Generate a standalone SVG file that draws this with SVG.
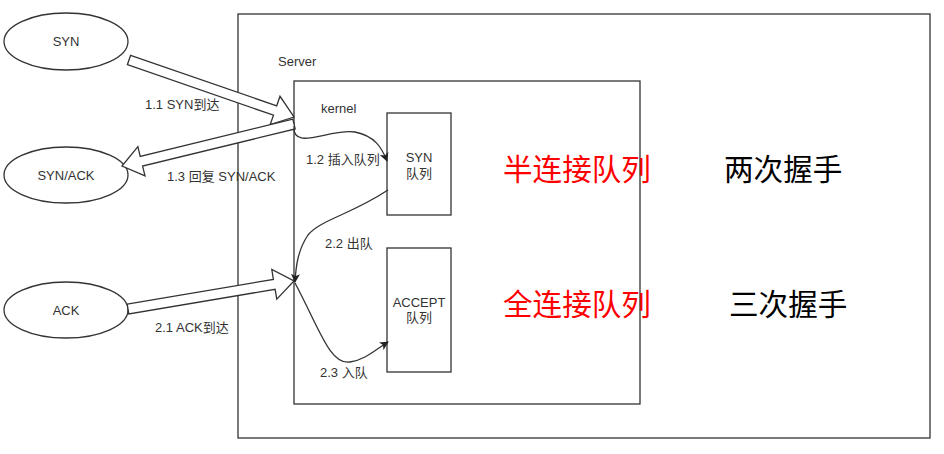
<svg xmlns="http://www.w3.org/2000/svg" width="944" height="454" viewBox="0 0 944 454">
<defs>
<style>
.box{fill:#fff;stroke:#333;stroke-width:1.3}
.el{fill:#fff;stroke:#333;stroke-width:1.3}
.t{font-family:"Liberation Sans","Noto Sans CJK SC",sans-serif;font-size:13px;fill:#333}
.c{text-anchor:middle}
.flex{fill:#fff;stroke:#333;stroke-width:1.3;stroke-linejoin:miter}
.curve{fill:none;stroke:#333;stroke-width:1.3;marker-end:url(#ah)}
.big{font-family:"Noto Sans CJK SC","Microsoft YaHei",sans-serif;font-size:29.6px}
</style>
<marker id="ah" viewBox="0 0 10 10" refX="9" refY="5" markerWidth="9" markerHeight="9" markerUnits="userSpaceOnUse" orient="auto">
<path d="M0,0 L10,5 L0,10 L2.5,5 Z" fill="#222"/>
</marker>
</defs>
<rect width="944" height="454" fill="#fff"/>

<g id="server">
<rect class="box" x="238" y="14" width="692" height="424" stroke="#555"/>
<text class="t" x="278" y="66">Server</text>
</g>
<g id="kernel">
<rect class="box" x="294" y="81" width="346" height="323" stroke="#555"/>
<text class="t" x="321" y="113">kernel</text>
</g>
<g id="syn-queue">
<rect class="box" x="387" y="113" width="64" height="102"/>
<text class="t c" x="419" y="162">SYN</text>
<text class="t c" x="419" y="178">队列</text>
</g>
<g id="accept-queue">
<rect class="box" x="387" y="248" width="64" height="124"/>
<text class="t c" x="419" y="307">ACCEPT</text>
<text class="t c" x="419" y="322">队列</text>
</g>
<g id="syn">
<ellipse class="el" cx="66" cy="41.5" rx="62" ry="28.5"/>
<text class="t c" x="66" y="46">SYN</text>
</g>
<g id="synack">
<ellipse class="el" cx="66" cy="175" rx="62" ry="28"/>
<text class="t c" x="66" y="180">SYN/ACK</text>
</g>
<g id="ack">
<ellipse class="el" cx="66" cy="310" rx="62" ry="28"/>
<text class="t c" x="66" y="315">ACK</text>
</g>

<g id="connectors">
<polygon class="flex" points="130.6,55.3 276.7,105.8 280,96.3 294,117 270.2,124.6 273.5,115.2 127.4,64.7"/>
<polygon class="flex" points="292.8,119.1 140.2,156.4 137.9,146.7 122,166 145,175.8 142.6,166.1 295.2,128.9"/>
<polygon class="flex" points="127.2,304.1 273.4,279.4 271.8,269.5 294,281 276.8,299.1 275.1,289.3 128.8,313.9"/>
<path class="curve" d="M294,126 C292,152 330,128 355,132 C375,136 382,148 387,161"/>
<path class="curve" d="M388,190 C350,215 320,220 308,235 C298,250 296,265 295,282"/>
<path class="curve" d="M295,283 C320,330 330,365 350,362 C365,360 375,350 388,342"/>
<text class="t" x="145" y="109">1.1 SYN到达</text>
<text class="t" x="167" y="181">1.3 回复 SYN/ACK</text>
<text class="t" x="306" y="164">1.2 插入队列</text>
<text class="t" x="325" y="248">2.2 出队</text>
<text class="t" x="320" y="377">2.3 入队</text>
<text class="t" x="155" y="332">2.1 ACK到达</text>
</g>

<g id="labels">
<text class="big" x="503" y="180" fill="#ff0000">半连接队列</text>
<text class="big" x="724" y="180" fill="#000">两次握手</text>
<text class="big" x="503" y="315" fill="#ff0000">全连接队列</text>
<text class="big" x="729" y="315" fill="#000">三次握手</text>
</g>
</svg>
